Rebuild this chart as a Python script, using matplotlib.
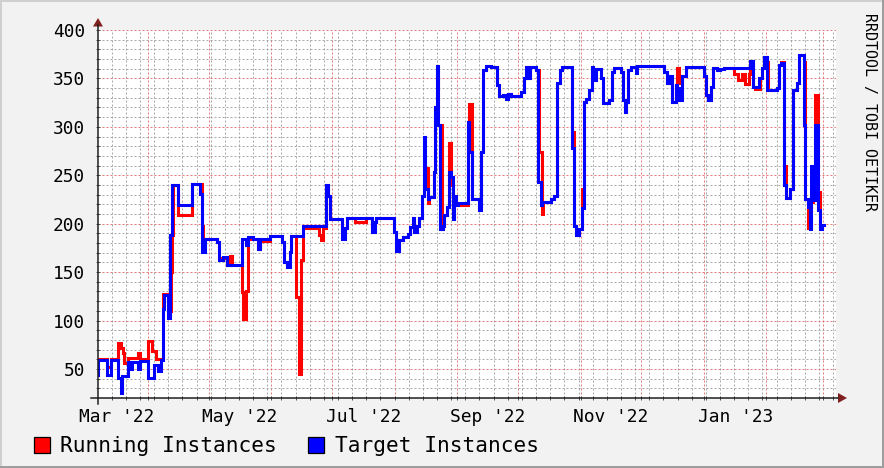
import numpy as np
import matplotlib
matplotlib.use("Agg")
import matplotlib.pyplot as plt
from matplotlib.lines import Line2D
from matplotlib.patches import Rectangle, Polygon
from matplotlib.transforms import ScaledTranslation

plt.rcParams['font.family'] = ['DejaVu Sans Mono']

# x = days since 2022-03-01, values drawn as steps
start_date = np.datetime64('2022-03-01')
x_range = (6.26, 371.4)
y_range = (20, 400)

target_steps = [(6.26, 44), (6.5, 59), (10.56, 44), (12.69, 59), (16.3, 41), (17.4, 25), (18.3, 43),
                (20.9, 57), (22.6, 50), (23.2, 57), (26.2, 50), (27.0, 58), (31.1, 41), (34.1, 54),
                (35.8, 48), (37.4, 59), (38.3, 112), (39.1, 126), (40.75, 103), (42.0, 188), (42.7, 240),
                (46.0, 219), (52.6, 241), (56.7, 231), (57.9, 171), (59.2, 184), (65.0, 181), (66.1, 162),
                (68.0, 166), (69.9, 157), (77.4, 184), (79.6, 178), (80.5, 186), (82.9, 184), (85.4, 174),
                (86.3, 184), (91.4, 187), (97.3, 181), (98.1, 160), (99.8, 155), (101.1, 171), (101.9, 187),
                (107.7, 198), (118.9, 240), (120.2, 229), (120.9, 205), (127.1, 184), (128.3, 196),
                (129.5, 206), (142.0, 191), (143.2, 202), (144.0, 206), (152.9, 191), (153.7, 172),
                (155.3, 183), (157.0, 186), (159.5, 189), (160.8, 197), (162.0, 206), (162.8, 191),
                (164.1, 198), (165.2, 206), (166.4, 229), (167.4, 290), (168.2, 236), (169.4, 226),
                (170.2, 228), (172.4, 253), (173.0, 321), (174.0, 363), (174.6, 302), (175.6, 195),
                (177.0, 198), (177.6, 209), (179.0, 217), (180.1, 253), (180.9, 248), (181.8, 205),
                (182.6, 229), (183.4, 219), (184.2, 221), (189.2, 305), (190.0, 274), (191.2, 226),
                (194.9, 214), (195.8, 274), (196.6, 359), (198.2, 363), (200.7, 362), (203.7, 343),
                (204.8, 332), (206.5, 333), (208.1, 329), (209.3, 334), (210.6, 332), (215.6, 336),
                (216.9, 350), (218.0, 362), (218.9, 350), (220.2, 362), (223.0, 359), (223.8, 243),
                (225.5, 219), (226.0, 222), (230.4, 226), (231.9, 229), (233.5, 345), (234.7, 359),
                (235.7, 362), (240.9, 278), (241.8, 198), (242.6, 188), (244.3, 195), (245.6, 216),
                (246.7, 326), (247.6, 329), (249.2, 338), (250.5, 362), (251.3, 348), (252.5, 360),
                (255.0, 350), (256.1, 325), (259.1, 328), (260.4, 357), (261.6, 361), (264.9, 357),
                (266.0, 328), (266.9, 315), (267.7, 326), (268.7, 359), (269.8, 362), (272.3, 356),
                (273.1, 363), (286.3, 357), (287.9, 345), (289.1, 353), (290.1, 326), (292.1, 343),
                (292.9, 340), (293.7, 328), (295.1, 353), (297.1, 362), (306.0, 353), (307.2, 333),
                (308.1, 328), (309.6, 341), (310.6, 361), (312.5, 359), (314.2, 360), (315.9, 361),
                (329.0, 368), (330.4, 341), (333.2, 350), (334.8, 361), (335.9, 372), (337.3, 338),
                (342.2, 340), (343.1, 364), (344.2, 366), (345.8, 240), (346.8, 227), (348.8, 236),
                (350.1, 338), (352.1, 345), (352.9, 374), (355.4, 302), (356.2, 226), (357.4, 217),
                (358.7, 195), (359.1, 260), (360.0, 224), (361.2, 302), (362.4, 214), (363.4, 195),
                (364.5, 199), (365.3, 199)]

running_steps = [(6.26, 60), (10.56, 52), (12.69, 60), (16.3, 77), (17.6, 72), (18.5, 66), (19.3, 56),
                 (20.9, 61), (26.2, 66), (27.0, 60), (30.9, 79), (33.1, 69), (35.0, 60), (38.6, 127),
                 (40.75, 110), (42.4, 150), (42.7, 188), (43.5, 240), (45.7, 225), (46.0, 209),
                 (52.6, 241), (57.9, 198), (58.4, 184), (65.0, 181), (66.1, 165), (69.9, 157),
                 (71.6, 167), (72.6, 157), (77.4, 129), (78.0, 102), (79.3, 131), (80.5, 184),
                 (85.4, 174), (86.3, 182), (91.4, 187), (97.3, 181), (98.1, 160), (99.8, 155),
                 (101.1, 171), (101.9, 187), (104.4, 124), (105.7, 45), (106.9, 162), (107.7, 196),
                 (115.6, 188), (116.5, 183), (117.4, 196), (118.9, 240), (120.2, 229), (120.9, 205),
                 (127.1, 188), (128.3, 196), (129.5, 206), (133.5, 202), (138.8, 206), (142.0, 191),
                 (143.2, 202), (144.0, 206), (152.9, 191), (153.7, 172), (155.3, 183), (157.0, 186),
                 (159.5, 189), (160.8, 197), (162.0, 206), (162.8, 191), (164.1, 198), (165.2, 206),
                 (166.4, 229), (167.4, 240), (168.2, 257), (169.4, 221), (170.2, 228), (172.4, 253),
                 (173.0, 321), (174.0, 363), (174.6, 302), (176.3, 195), (177.0, 198), (177.6, 209),
                 (179.0, 217), (180.1, 283), (180.9, 240), (181.8, 226), (182.6, 229), (183.4, 219),
                 (189.2, 305), (190.0, 324), (191.2, 226), (194.9, 214), (195.8, 274), (196.6, 359),
                 (198.2, 363), (200.7, 362), (203.7, 343), (204.8, 332), (206.5, 333), (208.1, 329),
                 (209.3, 334), (210.6, 332), (215.6, 336), (216.9, 350), (218.0, 362), (218.9, 350),
                 (220.2, 362), (223.0, 359), (224.6, 274), (225.8, 210), (226.5, 222), (230.4, 226),
                 (231.9, 229), (233.5, 345), (234.7, 359), (235.7, 362), (240.9, 295), (241.8, 198),
                 (242.6, 188), (244.3, 195), (245.6, 236), (246.7, 326), (247.6, 329), (249.2, 338),
                 (250.5, 362), (251.3, 348), (252.5, 360), (255.0, 350), (256.1, 325), (259.1, 328),
                 (260.4, 357), (261.6, 361), (264.9, 357), (266.0, 328), (266.9, 315), (267.7, 326),
                 (268.7, 359), (269.8, 362), (272.3, 356), (273.1, 363), (286.3, 357), (287.9, 345),
                 (289.1, 353), (290.1, 326), (292.1, 343), (292.9, 361), (293.7, 345), (295.1, 353),
                 (297.1, 362), (306.0, 353), (307.2, 333), (308.1, 328), (309.6, 341), (310.6, 361),
                 (312.5, 359), (314.2, 360), (315.9, 361), (320.8, 355), (323.0, 348), (325.0, 355),
                 (326.6, 344), (328.2, 355), (329.0, 368), (330.4, 341), (331.3, 339), (333.8, 350),
                 (334.8, 361), (335.9, 372), (337.3, 367), (337.8, 338), (342.2, 340), (343.1, 364),
                 (344.2, 367), (345.8, 260), (346.8, 227), (348.8, 236), (350.1, 338), (352.1, 345),
                 (352.9, 374), (355.4, 367), (356.2, 226), (357.4, 196), (359.1, 222), (360.0, 250),
                 (361.2, 333), (362.4, 233), (363.4, 195), (364.5, 199), (365.3, 199)]

y_labels = [50, 100, 150, 200, 250, 300, 350, 400]
x_labels = ["Mar '22", "May '22", "Jul '22", "Sep '22", "Nov '22", "Jan '23"]
legend_names = ['Running Instances', 'Target Instances']

W, H = 884, 468


def px(x, y):
    return (x / W, 1 - y / H)


fig = plt.figure(figsize=(W / 100, H / 100), dpi=100, facecolor='#F2F2F2')
ax = fig.add_axes([98 / W, 1 - 398 / H, (836 - 98) / W, (398 - 30) / H])
ax.set_facecolor('white')

# 3d-ish frame around the image
for (x, y, w, h, c) in [(0, 0, W, 2, '#CFCFCF'), (0, 0, 2, H, '#CFCFCF'),
                        (0, H - 2, W, 2, '#9E9E9E'), (W - 2, 0, 2, H, '#9E9E9E')]:
    fig.patches.append(Rectangle(px(x, y + h), w / W, h / H, transform=fig.transFigure,
                                 fc=c, ec='none'))

months = np.arange('2022-03', '2023-05', dtype='datetime64[M]')
month_days = (months.astype('datetime64[D]') - start_date).astype(float)
mondays = np.arange(np.datetime64('2022-03-07'), np.datetime64('2023-03-10'), 7)
monday_days = (mondays - start_date).astype(float)

ax.set_xlim(*x_range)
ax.set_ylim(*y_range)
ax.set_xticks(month_days)
ax.set_xticks(monday_days, minor=True)
ax.set_yticks(y_labels)
ax.set_yticks(np.arange(30, 400, 10), minor=True)
ax.set_xticklabels([])
ax.set_yticklabels([])
ax.set_xlim(*x_range)
ax.tick_params(which='both', direction='inout', length=3.5, width=0.72, color='#555555')
for s in ax.spines.values():
    s.set_visible(False)

ax.grid(which='minor', color='#8F8F8F', alpha=0.75, lw=0.72, ls=(0, (2, 2)))
ax.grid(which='major', color='#DE4F4F', alpha=0.75, lw=0.72, ls=(0, (2, 2)))
ax.set_axisbelow(True)

rd, rv = zip(*running_steps)
td, tv = zip(*target_steps)
ax.step(rd, rv, where='post', color='#FF0000', lw=2.2, solid_joinstyle='miter', zorder=3)
ax.step(td, tv, where='post', color='#0000FF', lw=2.2, solid_joinstyle='miter', zorder=4)

# axis lines and arrows
fig.add_artist(Line2D([91 / W, 838 / W], [1 - 398 / H] * 2, color='#1F1F1F', lw=1.1))
fig.add_artist(Line2D([98 / W] * 2, [1 - 404 / H, 1 - 25 / H], color='#1F1F1F', lw=1.1))
fig.patches.append(Polygon([px(93, 26.5), px(103, 26.5), px(98, 18)], closed=True,
                           transform=fig.transFigure, fc='#801F1F', ec='none'))
fig.patches.append(Polygon([px(838, 393), px(838, 403), px(847, 398)], closed=True,
                           transform=fig.transFigure, fc='#801F1F', ec='none'))

# tick labels
ylab_tr = ax.get_yaxis_transform() + ScaledTranslation(-13 / 100, -7 / 100, fig.dpi_scale_trans)
for v in y_labels:
    ax.text(0, v, str(v), transform=ylab_tr, ha='right', va='baseline', fontsize=12.9)

label_pos = (month_days[:-1] + month_days[1:]) / 2
xlab_tr = ax.get_xaxis_transform() + ScaledTranslation(0, -23.5 / 100, fig.dpi_scale_trans)
for pos, lab in zip(label_pos[0:12:2], x_labels):
    ax.text(pos, 0, lab, transform=xlab_tr, ha='center', va='baseline', fontsize=12.9)

# legend
for (bx, tx, c, name) in [(34, 60, '#FF0000', legend_names[0]), (308, 335, '#0000FF', legend_names[1])]:
    fig.patches.append(Rectangle(px(bx, 453), 16 / W, 16 / H, transform=fig.transFigure,
                                 fc=c, ec='black', lw=0.9))
    fig.text(tx / W, 1 - 451.5 / H, name, fontsize=15.2, va='baseline')

fig.text(870 / W, 1 - 112 / H, 'RRDTOOL / TOBI OETIKER', rotation=270,
         ha='center', va='center', fontsize=10.8)

fig.savefig('out.png', dpi=100, facecolor=fig.get_facecolor())
